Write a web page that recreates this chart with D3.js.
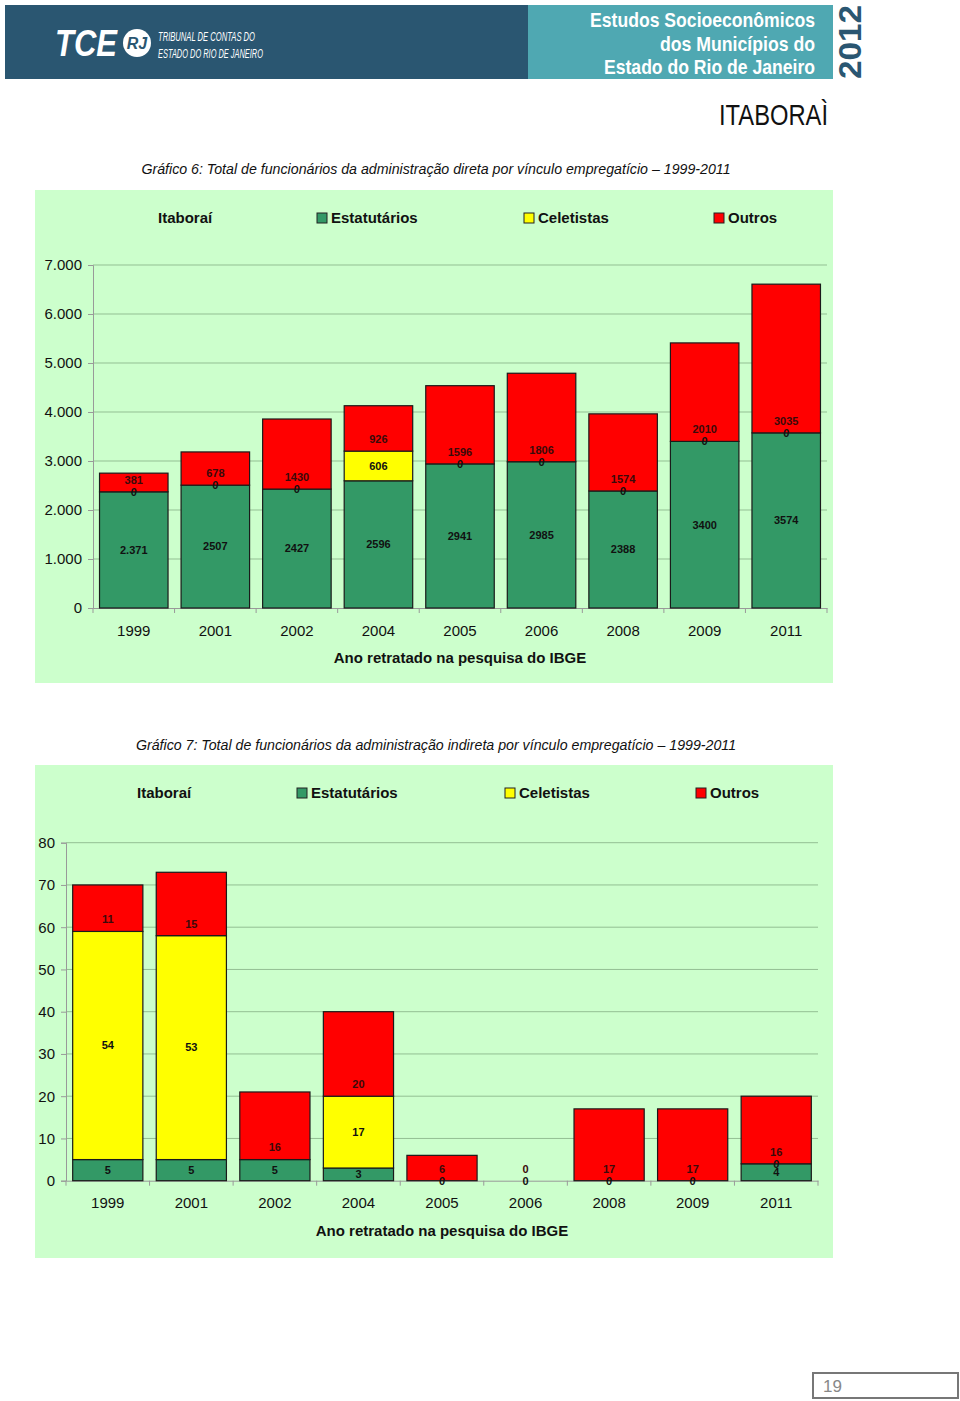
<!DOCTYPE html>
<html><head><meta charset="utf-8">
<script src="https://cdn.jsdelivr.net/npm/d3@7"></script>
<style>body{margin:0;background:#fff}svg{display:block}text{font-family:"Liberation Sans",Arial,sans-serif}</style>
</head><body>
<script>
const years = ["1999","2001","2002","2004","2005","2006","2008","2009","2011"];
const seriesNames = ["Estatutários","Celetistas","Outros"];
const seriesColors = ["#339966","#ffff00","#ff0000"];

// Gráfico 6 – administração direta
const est6 = [2371,2507,2427,2596,2941,2985,2388,3400,3574];
const est6Labels = ["2.371","2507","2427","2596","2941","2985","2388","3400","3574"];
const cel6 = [0,0,0,606,0,0,0,0,0];
const out6 = [381,678,1430,926,1596,1806,1574,2010,3035];
const ticks6 = [0,1000,2000,3000,4000,5000,6000,7000];
const tickLabels6 = ["0","1.000","2.000","3.000","4.000","5.000","6.000","7.000"];

// Gráfico 7 – administração indireta (null = sem rótulo)
const est7 = [5,5,5,3,null,null,null,null,4];
const cel7 = [54,53,null,17,0,0,0,0,0];
const out7 = [11,15,16,20,6,0,17,17,16];
const ticks7 = [0,10,20,30,40,50,60,70,80];
const tickLabels7 = ["0","10","20","30","40","50","60","70","80"];

const svg = d3.select("body").append("svg").attr("width",960).attr("height",1401);

// ---------- header ----------
svg.append("rect").attr("x",5).attr("y",5).attr("width",523).attr("height",74).attr("fill","#2a5671");
svg.append("rect").attr("x",528).attr("y",5).attr("width",305).attr("height",74).attr("fill","#4fa8b2");
svg.append("text").attr("x",55).attr("y",56).attr("fill","#fff").attr("font-size",36).attr("font-weight","bold").attr("font-style","italic")
  .attr("textLength",62).attr("lengthAdjust","spacingAndGlyphs").text("TCE");
svg.append("circle").attr("cx",137).attr("cy",43).attr("r",14).attr("fill","#fff");
svg.append("text").attr("x",137).attr("y",49).attr("fill","#2a5671").attr("font-size",16).attr("font-weight","bold").attr("font-style","italic")
  .attr("text-anchor","middle").text("RJ");
[["TRIBUNAL DE CONTAS DO",41],["ESTADO DO RIO DE JANEIRO",58]].forEach(([t,y])=>{
  svg.append("text").attr("x",158).attr("y",y).attr("fill","#fff").attr("font-size",12).attr("font-style","italic")
    .attr("font-family","'Liberation Sans Narrow','Liberation Sans',sans-serif")
    .attr("textLength",t.length>22?105:97).attr("lengthAdjust","spacingAndGlyphs").text(t);
});
[["Estudos Socioeconômicos",27,225],["dos Municípios do",51,155],["Estado do Rio de Janeiro",74,211]].forEach(([t,y,w])=>{
  svg.append("text").attr("x",815).attr("y",y).attr("fill","#fff").attr("font-size",21).attr("font-weight","bold")
    .attr("font-family","'Liberation Sans Narrow','Liberation Sans',sans-serif")
    .attr("text-anchor","end").attr("textLength",w).attr("lengthAdjust","spacingAndGlyphs").text(t);
});
svg.append("text").attr("transform","translate(861,42) rotate(-90)").attr("fill","#2a5671").attr("font-size",32).attr("font-weight","bold")
  .attr("text-anchor","middle").attr("textLength",74).attr("lengthAdjust","spacingAndGlyphs").text("2012");
svg.append("text").attr("x",828).attr("y",125).attr("fill","#111").attr("font-size",29)
  .attr("font-family","'Liberation Sans Narrow','Liberation Sans',sans-serif")
  .attr("text-anchor","end").attr("textLength",109).attr("lengthAdjust","spacingAndGlyphs").text("ITABORAÌ");

// ---------- page number ----------
svg.append("rect").attr("x",813).attr("y",1373).attr("width",145).attr("height",25).attr("fill","#fff").attr("stroke","#777").attr("stroke-width",2);
svg.append("text").attr("x",823).attr("y",1392).attr("fill","#888").attr("font-size",17).text("19");

function drawChart(o){
  const g = svg.append("g");
  g.append("text").attr("x",436).attr("y",o.titleY).attr("font-size",14.2).attr("font-style","italic").attr("fill","#111")
    .attr("text-anchor","middle").text(o.title);
  g.append("rect").attr("x",35).attr("y",o.panelY).attr("width",798).attr("height",493).attr("fill","#ccffcc");

  // legend
  const ly = o.panelY + 28;
  g.append("text").attr("x",o.legend[0]).attr("y",ly+5).attr("font-size",15).attr("font-weight","bold").attr("fill","#111").text("Itaboraí");
  seriesNames.forEach((s,i)=>{
    const lx = o.legend[i+1];
    g.append("rect").attr("x",lx).attr("y",ly-5).attr("width",10).attr("height",10).attr("fill",seriesColors[i]).attr("stroke","#222");
    g.append("text").attr("x",lx+14).attr("y",ly+5).attr("font-size",15).attr("font-weight","bold").attr("fill","#111").text(s);
  });

  const y = d3.scaleLinear().domain([0,o.ticks[o.ticks.length-1]]).range([o.y0,o.yTop]);
  const x = d3.scaleBand().domain(years).range([o.xLeft,o.xRight]).paddingInner(0.16).paddingOuter(0.08);

  // gridlines
  g.append("g").selectAll("line").data(o.ticks.slice(1)).join("line")
    .attr("x1",o.xLeft).attr("x2",o.xRight).attr("y1",d=>y(d)).attr("y2",d=>y(d))
    .attr("stroke","#93bf93").attr("stroke-width",1);

  // y axis
  const ya = g.append("g").attr("transform",`translate(${o.xLeft},0)`)
    .call(d3.axisLeft(y).tickValues(o.ticks).tickSize(5).tickPadding(6).tickFormat((d,i)=>o.tickLabels[i]));
  ya.select(".domain").attr("stroke","#999");
  ya.selectAll(".tick line").attr("stroke","#999");
  ya.selectAll(".tick text").attr("font-size",15).attr("fill","#111").attr("font-family","'Liberation Sans',Arial,sans-serif");

  // x axis
  const xa = g.append("g").attr("transform",`translate(0,${o.y0})`)
    .call(d3.axisBottom(x).tickSize(0).tickPadding(17));
  xa.select(".domain").attr("stroke","#999");
  xa.selectAll(".tick text").attr("font-size",15).attr("fill","#111").attr("font-family","'Liberation Sans',Arial,sans-serif");
  g.append("g").selectAll("line").data(d3.range(years.length+1)).join("line")
    .attr("x1",i=>o.xLeft+i*x.step()).attr("x2",i=>o.xLeft+i*x.step())
    .attr("y1",o.y0).attr("y2",o.y0+5).attr("stroke","#999");

  g.append("text").attr("x",(o.xLeft+o.xRight)/2).attr("y",o.y0+55).attr("font-size",15).attr("font-weight","bold")
    .attr("fill","#111").attr("text-anchor","middle").text("Ano retratado na pesquisa do IBGE");

  // stacked bars
  const rows = years.map((yr,i)=>({yr, vals:[o.est[i],o.cel[i],o.out[i]]}));
  rows.forEach((r,i)=>{
    let base = 0;
    r.vals.forEach((v,k)=>{
      const val = v==null?0:v;
      const b = base, t = base+val;
      if(val>0){
        g.append("rect").attr("x",x(r.yr)).attr("width",x.bandwidth())
          .attr("y",y(t)).attr("height",y(b)-y(t))
          .attr("fill",seriesColors[k]).attr("stroke","#1a1a1a").attr("stroke-width",1.2);
      }
      r["b"+k]=b; r["t"+k]=t;
      base = t;
    });
  });
  rows.forEach((r,i)=>{
    r.vals.forEach((v,k)=>{
      if(v==null) return;
      const ly = k===2 ? y(r.b2)-12 : (y(r["b"+k])+y(r["t"+k]))/2;
      const label = (k===0 && o.estLabels) ? o.estLabels[i] : String(v);
      g.append("text").attr("x",x(r.yr)+x.bandwidth()/2).attr("y",ly).attr("dy","0.35em")
        .attr("text-anchor","middle").attr("font-size",11).attr("font-weight","bold")
        .attr("fill",k===2?"#3a0a0a":"#111").text(label);
    });
  });
}

drawChart({
  title:"Gráfico 6: Total de funcionários da administração direta por vínculo empregatício – 1999-2011",
  titleY:174, panelY:190, legend:[158,317,524,714],
  est:est6, cel:cel6, out:out6, estLabels:est6Labels, ticks:ticks6, tickLabels:tickLabels6,
  y0:608, yTop:265, xLeft:93, xRight:827
});
drawChart({
  title:"Gráfico 7: Total de funcionários da administração indireta por vínculo empregatício – 1999-2011",
  titleY:750, panelY:765, legend:[137,297,505,696],
  est:est7, cel:cel7, out:out7, estLabels:null, ticks:ticks7, tickLabels:tickLabels7,
  y0:1180.7, yTop:842.7, xLeft:66, xRight:818
});
</script>
</body></html>
